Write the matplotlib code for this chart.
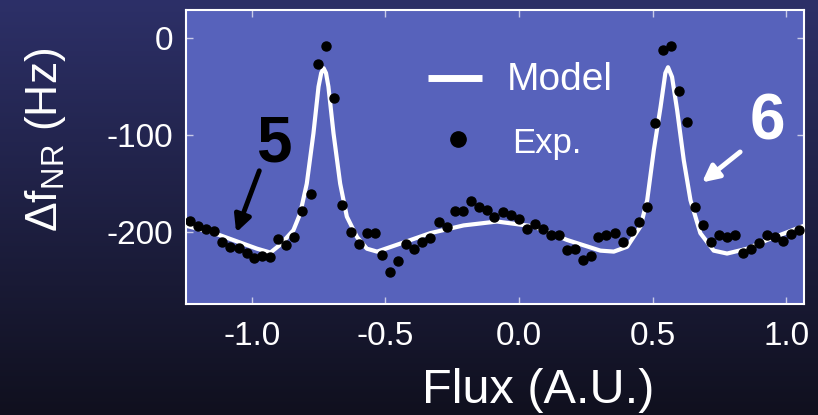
import numpy as np
import matplotlib
matplotlib.use("Agg")
import matplotlib.pyplot as plt

plt.rcParams['font.family'] = ['Liberation Sans', 'DejaVu Sans']
plt.rcParams['mathtext.fontset'] = 'custom'
plt.rcParams['mathtext.rm'] = 'Liberation Sans'
plt.rcParams['mathtext.it'] = 'Liberation Sans'

# experimental points (flux, shift in Hz)
exp_flux = [-1.232, -1.200, -1.171, -1.140, -1.110, -1.080, -1.048, -1.018, -0.990, -0.960,
            -0.930, -0.901, -0.871, -0.840, -0.810, -0.780, -0.751, -0.721, -0.691, -0.661,
            -0.630, -0.600, -0.570, -0.540, -0.512, -0.482, -0.452, -0.421, -0.391, -0.361,
            -0.331, -0.301, -0.271, -0.241, -0.211, -0.181, -0.151, -0.121, -0.092, -0.060,
            -0.030, -0.001, 0.029, 0.059, 0.089, 0.119, 0.149, 0.179, 0.209, 0.239,
            0.269, 0.297, 0.327, 0.358, 0.388, 0.418, 0.448, 0.478, 0.508, 0.538,
            0.568, 0.598, 0.628, 0.658, 0.688, 0.718, 0.748, 0.778, 0.808, 0.838,
            0.868, 0.898, 0.928, 0.958, 0.988, 1.018, 1.048]
exp_shift = [-188, -194, -197, -199, -210, -215, -216, -221, -227, -225,
             -226, -207, -213, -205, -178, -161, -27, -8, -62, -172,
             -200, -212, -201, -201, -224, -241, -230, -212, -217, -210,
             -206, -189, -195, -178, -178, -168, -174, -177, -184, -179,
             -182, -186, -197, -192, -197, -203, -203, -218, -217, -229,
             -225, -205, -203, -201, -210, -199, -189, -174, -87, -12,
             -8, -54, -86, -174, -193, -210, -203, -205, -203, -221,
             -217, -211, -203, -205, -209, -202, -198]

# model curve
model_flux = [-1.25, -1.14, -1.04, -0.98, -0.93, -0.894, -0.844, -0.819, -0.794, -0.769,
              -0.750, -0.740, -0.731, -0.722, -0.713, -0.694, -0.669, -0.644, -0.606, -0.569,
              -0.531, -0.457, -0.332, -0.207, -0.082, 0.055, 0.180, 0.305, 0.355, 0.405,
              0.455, 0.480, 0.505, 0.530, 0.548, 0.558, 0.573, 0.592, 0.617, 0.642,
              0.679, 0.729, 0.779, 0.854, 0.929, 1.004, 1.07]
model_shift = [-193, -201, -211, -217, -221, -213, -198, -181, -150, -98,
               -50, -36, -31, -36, -50, -98, -150, -184, -205, -217,
               -220, -213, -201, -193, -189, -194, -208, -219, -220, -215,
               -194, -167, -115, -71, -36, -30, -40, -74, -126, -167,
               -201, -219, -222, -217, -208, -200, -193]

W, H = 818, 415
fig = plt.figure(figsize=(W / 100, H / 100), dpi=100)

# dark gradient background
bg = fig.add_axes([0, 0, 1, 1], zorder=-10)
top = np.array([0.176, 0.188, 0.408])
bot = np.array([0.063, 0.063, 0.118])
t = np.linspace(0, 1, 256)[:, None]
grad = (top * (1 - t) + bot * t)[:, None, :]
bg.imshow(grad, aspect='auto', extent=[0, 1, 0, 1])
bg.axis('off')

ax = fig.add_axes([186 / W, 1 - 304 / H, (803.5 - 186) / W, 294 / H])
ax.set_facecolor('#5762bb')
ax.plot(model_flux, model_shift, color='white', lw=3, zorder=2)
ax.plot(exp_flux, exp_shift, 'o', color='black', ms=6.5, zorder=3)

ax.set_xlim(-1.246, 1.065)
ax.set_ylim(-274, 29)
ax.set_xticks([-1.0, -0.5, 0.0, 0.5, 1.0])
ax.set_xticklabels(['-1.0', '-0.5', '0.0', '0.5', '1.0'])
ax.set_yticks([0, -100, -200])
ax.set_yticklabels(['0', '-100', '-200'])
ax.tick_params(direction='in', length=5, width=1, color='#c8cbe8',
               top=True, right=True, labelsize=24, labelcolor='white')
ax.tick_params(axis='x', pad=12)
ax.tick_params(axis='y', pad=9)
for s in ax.spines.values():
    s.set_color('white')
    s.set_linewidth(1.5)

# axis titles placed like in the original slide
fig.text(538 / W, 1 - 403 / H, 'Flux (A.U.)', fontsize=35, color='white',
         ha='center', va='baseline')
fig.text(45 / W, 1 - 140 / H, r'$\Delta$f$_{\mathrm{NR}}$ (Hz)', fontsize=32,
         color='white', rotation=90, ha='center', va='center')

# legend drawn by hand
ax.plot([-0.339, -0.137], [-41, -41], color='white', lw=5, solid_capstyle='butt')
ax.text(-0.047, -43, 'Model', fontsize=28, color='white', va='center', ha='left')
ax.plot([-0.228], [-104], 'o', color='black', ms=11)
ax.text(-0.026, -109, 'Exp.', fontsize=25, color='white', va='center', ha='left')

# annotations
ax.annotate('', xy=(-1.062, -203), xytext=(-0.968, -134),
            arrowprops=dict(arrowstyle='-|>,head_width=0.5,head_length=1.0', color='black', lw=3.5))
ax.text(-0.916, -110, '5', fontsize=46, fontweight='bold', color='black', ha='center', va='center')
ax.annotate('', xy=(0.677, -150.5), xytext=(0.836, -115.5),
            arrowprops=dict(arrowstyle='-|>,head_width=0.5,head_length=1.0', color='white', lw=3.5))
ax.text(0.930, -87, '6', fontsize=46, fontweight='bold', color='white', ha='center', va='center')

fig.savefig('out.png', dpi=100)
